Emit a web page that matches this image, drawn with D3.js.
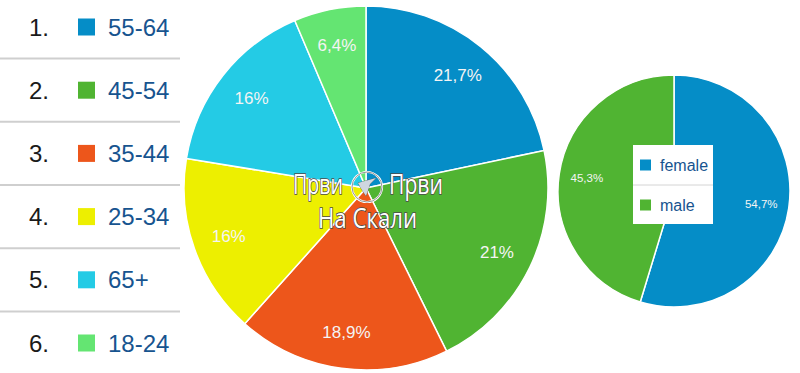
<!DOCTYPE html>
<html>
<head>
    <meta charset="utf-8">
    <title>Age and gender</title>
    <script src="https://d3js.org/d3.v7.min.js"></script>
    <style>
        body { margin: 0; background: #fff; }
        svg { display: block; font-family: "Liberation Sans", Arial, sans-serif; }
    </style>
</head>
<body>
    <div id="chart"></div>

    <script>
        // data
        const ageGroups = ["55-64", "45-54", "35-44", "25-34", "65+", "18-24"];
        const ageShares = [21.7, 21, 18.9, 16, 16, 6.4];
        const ageColors = ["#058DC7", "#50B432", "#ED561B", "#EDEF00", "#24CBE5", "#64E572"];

        const genders = ["female", "male"];
        const genderShares = [54.7, 45.3];
        const genderColors = ["#058DC7", "#50B432"];

        const width = 800, height = 373;
        const fmt = v => String(v).replace(".", ",") + "%";

        const svg = d3.select("#chart")
            .append("svg")
            .attr("width", width)
            .attr("height", height);

        // left list legend
        const rowY = d3.scalePoint().domain(ageGroups).range([27, 343]);
        const ageColor = d3.scaleOrdinal().domain(ageGroups).range(ageColors);

        ageGroups.slice(1).forEach(g => {
            const y = (rowY(g) + rowY(ageGroups[ageGroups.indexOf(g) - 1])) / 2;
            svg.append("line")
                .attr("x1", 0).attr("x2", 180)
                .attr("y1", y).attr("y2", y)
                .attr("stroke", "#cfcfcf")
                .attr("stroke-width", 2);
        });

        const rows = svg.selectAll(".row")
            .data(ageGroups)
            .enter().append("g")
            .attr("class", "row")
            .attr("transform", d => `translate(0,${rowY(d)})`);

        rows.append("text")
            .attr("x", 29).attr("y", 8.5)
            .style("font-size", "24px")
            .attr("fill", "#1a1a1a")
            .text((d, i) => (i + 1) + ".");

        rows.append("rect")
            .attr("x", 78).attr("y", -8.5)
            .attr("width", 17).attr("height", 17)
            .attr("fill", d => ageColor(d));

        rows.append("text")
            .attr("x", 108).attr("y", 8.5)
            .style("font-size", "24px")
            .attr("fill", "#17548f")
            .text(d => d);

        // big pie
        const pie = d3.pie().sort(null).value(d => d.v);
        const bigR = 182;
        const big = svg.append("g").attr("transform", "translate(366,188)");
        const ageData = pie(ageGroups.map((g, i) => ({k: g, v: ageShares[i]})));
        const bigArc = d3.arc().innerRadius(0).outerRadius(bigR);
        const bigLabel = d3.arc().innerRadius(bigR * 0.8).outerRadius(bigR * 0.8);

        big.selectAll("path")
            .data(ageData)
            .enter().append("path")
            .attr("d", bigArc)
            .attr("fill", d => ageColor(d.data.k))
            .attr("stroke", "#fff")
            .attr("stroke-width", 1.5);

        big.selectAll(".lbl")
            .data(ageData)
            .enter().append("text")
            .attr("class", "lbl")
            .attr("transform", d => `translate(${bigLabel.centroid(d)})`)
            .attr("text-anchor", "middle")
            .attr("dy", "0.35em")
            .style("font-size", "17px")
            .attr("fill", "#f4f4f4")
            .text(d => fmt(d.data.v));

        // small pie
        const smallR = 116;
        const small = svg.append("g").attr("transform", "translate(674,191)");
        const genderColor = d3.scaleOrdinal().domain(genders).range(genderColors);
        const genderData = pie(genders.map((g, i) => ({k: g, v: genderShares[i]})));
        const smallArc = d3.arc().innerRadius(0).outerRadius(smallR);
        const smallLabel = d3.arc().innerRadius(smallR * 0.76).outerRadius(smallR * 0.76);

        small.selectAll("path")
            .data(genderData)
            .enter().append("path")
            .attr("d", smallArc)
            .attr("fill", d => genderColor(d.data.k))
            .attr("stroke", "#fff")
            .attr("stroke-width", 1.5);

        small.selectAll(".lbl")
            .data(genderData)
            .enter().append("text")
            .attr("class", "lbl")
            .attr("transform", d => `translate(${smallLabel.centroid(d)})`)
            .attr("text-anchor", "middle")
            .attr("dy", "0.35em")
            .style("font-size", "11.5px")
            .attr("fill", "#f4f4f4")
            .text(d => fmt(d.data.v));

        // legend box inside small pie
        const box = svg.append("g").attr("transform", "translate(633,145)");
        box.append("rect")
            .attr("width", 80).attr("height", 79)
            .attr("fill", "#fff");
        box.append("line")
            .attr("x1", 0).attr("x2", 80)
            .attr("y1", 40).attr("y2", 40)
            .attr("stroke", "#d4d4d4");
        const rowG = d3.scalePoint().domain(genders).range([20, 60]);
        genders.forEach(g => {
            box.append("rect")
                .attr("x", 7).attr("y", rowG(g) - 5.5)
                .attr("width", 11).attr("height", 11)
                .attr("fill", genderColor(g));
            box.append("text")
                .attr("x", 27).attr("y", rowG(g) + 5.5)
                .style("font-size", "16px")
                .attr("fill", "#17548f")
                .text(g);
        });

        // watermark
        const wm = svg.append("g")
            .style("font-family", "'Open Sans', 'Noto Sans', sans-serif")
            .style("font-size", "27px")
            .attr("fill", "#fff")
            .attr("stroke", "#4a4a4a")
            .attr("stroke-width", 1.6)
            .attr("paint-order", "stroke");
        wm.append("text").attr("x", 293).attr("y", 194)
            .attr("textLength", 50).attr("lengthAdjust", "spacingAndGlyphs").text("Први");
        wm.append("text").attr("x", 389).attr("y", 194)
            .attr("textLength", 54).attr("lengthAdjust", "spacingAndGlyphs").text("Први");
        wm.append("text").attr("x", 318).attr("y", 228)
            .attr("textLength", 99).attr("lengthAdjust", "spacingAndGlyphs").text("На Скали");
        wm.append("circle").attr("cx", 367).attr("cy", 187).attr("r", 15)
            .attr("fill", "none").attr("stroke", "#fff").attr("stroke-width", 2.2);
        wm.append("circle").attr("cx", 367).attr("cy", 187).attr("r", 15)
            .attr("fill", "none").attr("stroke", "#666").attr("stroke-width", 0.7);
        wm.append("path")
            .attr("d", "M358,183 L376,178 L370,184 L366,196 L362,190 Z")
            .attr("fill", "#cfd6e0").attr("stroke", "#555").attr("stroke-width", 0.7);
    </script>
</body>
</html>
